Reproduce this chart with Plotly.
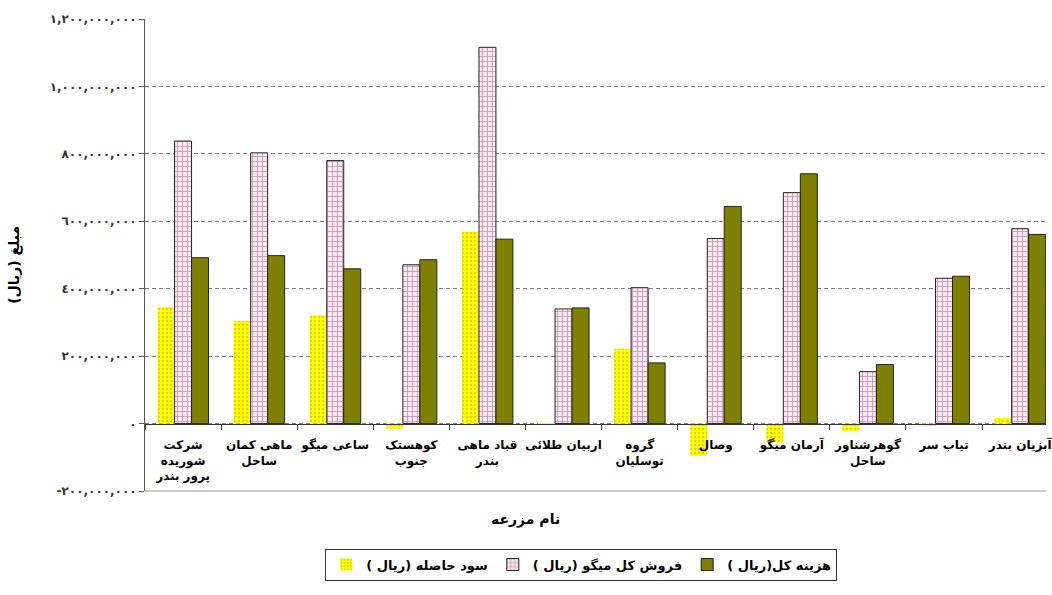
import plotly.graph_objects as go

farms = [
    "شرکت<br>شوریده<br>پرور بندر",
    "ماهی کمان<br>ساحل",
    "ساعی میگو",
    "کوهستک<br>جنوب",
    "قباد ماهی<br>بندر",
    "اربیان طلائی",
    "گروه<br>توسلیان",
    "وصال",
    "آرمان میگو",
    "گوهرشناور<br>ساحل",
    "تیاب سر",
    "آبزیان بندر",
]

profit = [346e6, 305e6, 321e6, -15e6, 569e6, -3e6, 222e6, -95e6, -56e6, -21e6, -6e6, 17e6]
sales = [838e6, 803e6, 780e6, 471e6, 1116e6, 340e6, 403e6, 549e6, 685e6, 154e6, 431e6, 578e6]
cost = [492e6, 498e6, 459e6, 486e6, 547e6, 343e6, 180e6, 644e6, 741e6, 175e6, 437e6, 561e6]

series_names = ["سود حاصله (ریال )", "فروش کل میگو (ریال )", "هزینه کل(ریال )"]

y_tickvals = [-200e6, 0, 200e6, 400e6, 600e6, 800e6, 1000e6, 1200e6]
y_ticktext = [
    "-٢٠٠,٠٠٠,٠٠٠", "٠", "٢٠٠,٠٠٠,٠٠٠", "٤٠٠,٠٠٠,٠٠٠", "٦٠٠,٠٠٠,٠٠٠",
    "٨٠٠,٠٠٠,٠٠٠", "١,٠٠٠,٠٠٠,٠٠٠", "١,٢٠٠,٠٠٠,٠٠٠",
]

y_title = "مبلغ (ریال)"
x_title = "نام مزرعه"

FONT = "Tahoma, 'DejaVu Sans', sans-serif"


def rtl(s):
    return "\u202b" + s + "\u202c"


fig = go.Figure()
fig.add_trace(go.Bar(
    x=farms, y=profit, name=rtl(series_names[0]),
    marker=dict(color="#FFFF00", line=dict(width=0),
                pattern=dict(shape=".", fgcolor="#C9A800", size=4, solidity=0.3, fillmode="overlay")),
))
fig.add_trace(go.Bar(
    x=farms, y=sales, name=rtl(series_names[1]),
    marker=dict(color="#FBE6F1", line=dict(width=1, color="#222222"),
                pattern=dict(shape="+", fgcolor="#7A4A6E", size=5, solidity=0.3, fillmode="overlay")),
))
fig.add_trace(go.Bar(
    x=farms, y=cost, name=rtl(series_names[2]),
    marker=dict(color="#808000", line=dict(width=1, color="#222222")),
))

fig.update_layout(
    width=1052, height=595,
    margin=dict(l=145, r=0, t=19, b=104),
    paper_bgcolor="white", plot_bgcolor="white",
    barmode="group", bargap=0.33, bargroupgap=0,
    font=dict(family=FONT, color="black"),
    showlegend=True,
    legend=dict(
        orientation="h", x=0.2, xanchor="left", y=-0.122, yanchor="top",
        bordercolor="#333333", borderwidth=1,
        font=dict(size=13, weight="bold", family=FONT),
        traceorder="normal",
    ),
    xaxis=dict(
        type="category", range=[-0.5, 11.34],
        anchor="free", position=1/7,
        showline=True, linecolor="#333333", linewidth=1,
        ticks="outside", tickson="boundaries", ticklen=5, tickcolor="#333333",
        showgrid=False, tickangle=0,
        tickfont=dict(size=12, weight="bold", family=FONT, color="black"),
        ticklabelstandoff=10,
    ),
    yaxis=dict(
        range=[-200e6, 1200e6],
        tickvals=y_tickvals, ticktext=y_ticktext,
        showline=True, linecolor="#555555", linewidth=1,
        ticks="outside", ticklen=5, tickcolor="#555555",
        showgrid=True, gridcolor="#808080", griddash="4px,3px", gridwidth=1,
        zeroline=False,
        tickfont=dict(size=12, weight="bold", family=FONT, color="#333333"),
    ),
    shapes=[dict(type="line", xref="paper", yref="paper", x0=0, x1=1, y0=0, y1=0,
                 line=dict(color="#999999", width=1))],
    annotations=[
        dict(text="<b>" + rtl(y_title) + "</b>", xref="paper", yref="paper",
             x=-0.156, y=0.479, textangle=-90, showarrow=False,
             font=dict(size=14, family=FONT, color="black")),
        dict(text="<b>" + rtl(x_title) + "</b>", xref="paper", yref="paper",
             x=0.422, y=-0.083, showarrow=False,
             font=dict(size=14, family=FONT, color="black")),
    ],
)

fig.write_html("out.html")
